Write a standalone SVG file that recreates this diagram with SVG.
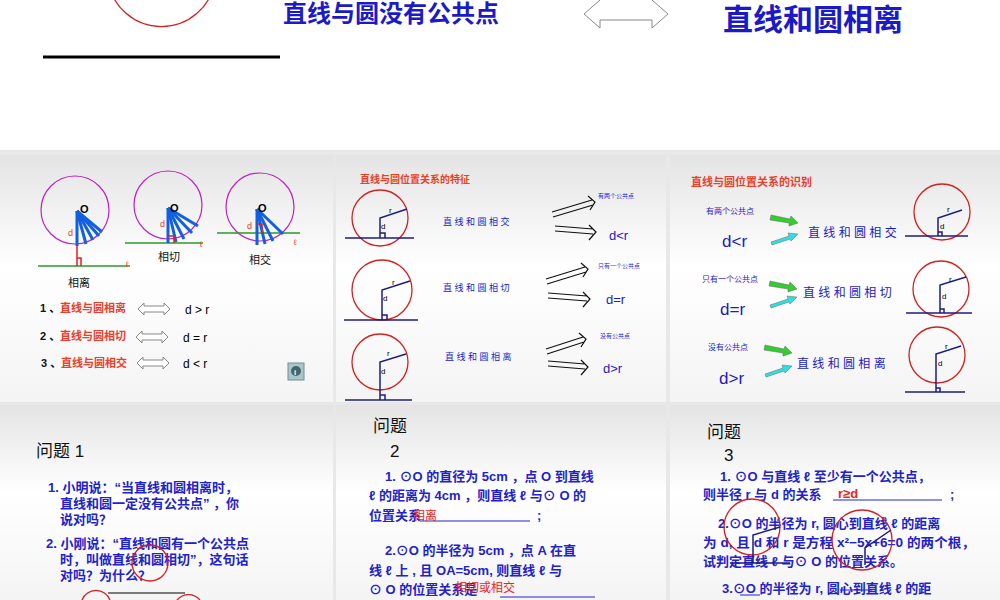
<svg xmlns="http://www.w3.org/2000/svg" width="1000" height="600" viewBox="0 0 1000 600">
<defs>
<linearGradient id="pg" x1="0" y1="0" x2="0" y2="1"><stop offset="0" stop-color="#e4e4e4"/><stop offset="0.45" stop-color="#ffffff"/><stop offset="1" stop-color="#f4f4f4"/></linearGradient>
<marker id="ah" viewBox="0 0 10 10" refX="9" refY="5" markerWidth="5" markerHeight="5" orient="auto"><path d="M0,0L10,5L0,10z" fill="#222"/></marker>
</defs>
<style>
text{font-family:"Liberation Sans","Noto Sans CJK SC",sans-serif}
.b{fill:#1a1ac8}.rd{fill:#e8402a}.k{fill:#111}
.cir{fill:none;stroke:#d42020;stroke-width:1.3}
.mc{fill:none;stroke:#c020c0;stroke-width:1.2}
.gl{stroke:#2a9a2a;stroke-width:1.5}
.nl{stroke:#1c1c80;stroke-width:1.5;fill:none}
.fan{stroke:#1060e0;stroke-width:3}
.ha{fill:#fff;stroke:#888;stroke-width:1}
.q{font-size:13px;fill:#2222cc;font-weight:bold}
</style>
<rect width="1000" height="600" fill="#ffffff"/>
<rect y="150" width="1000" height="450" fill="#e8e8e8"/>
<g id="top">
<path d="M108,-20 A54,54 0 0 0 215,-20" class="cir" stroke-width="2"/>
<line x1="43" y1="57" x2="280" y2="57" stroke="#000" stroke-width="3"/>
<text x="283" y="22" font-size="24" class="b" font-weight="bold">直线与圆没有公共点</text>
<path d="M600,0 L584,14 L600,28 L600,20 L652,20 L652,28 L668,14 L652,0" class="ha" stroke="#444"/>
<text x="723" y="30" font-size="30" class="b" font-weight="bold">直线和圆相离</text>
</g>
<g id="panel1">
<rect x="0" y="155" width="333" height="247" fill="url(#pg)"/>
<circle cx="75" cy="210" r="34" class="mc"/><line x1="38" y1="266" x2="130" y2="266" class="gl"/>
<g class="fan"><line x1="77" y1="211" x2="77" y2="246"/><line x1="77" y1="211" x2="86" y2="244"/><line x1="77" y1="211" x2="93" y2="240"/><line x1="77" y1="211" x2="99" y2="236"/><line x1="77" y1="211" x2="102" y2="232"/></g>
<path d="M77,246 V266 M77,258 H81 V266" stroke="#e02020" stroke-width="1.5" fill="none"/>
<text x="80" y="213" font-size="11" font-weight="bold" font-family="Liberation Serif">O</text><text x="68" y="236" font-size="9" class="rd">d</text><text x="126" y="267" font-size="8" class="rd">ℓ</text>
<circle cx="168" cy="205" r="34" class="mc"/><line x1="125" y1="243" x2="203" y2="243" class="gl"/>
<g class="fan"><line x1="168" y1="208" x2="168" y2="243"/><line x1="168" y1="208" x2="176" y2="242"/><line x1="168" y1="208" x2="184" y2="239"/><line x1="168" y1="208" x2="192" y2="233"/><line x1="168" y1="208" x2="198" y2="226"/></g>
<path d="M168,236 H174 V243" stroke="#e02020" stroke-width="1.5" fill="none"/>
<text x="170" y="212" font-size="11" font-weight="bold" font-family="Liberation Serif">O</text><text x="160" y="227" font-size="9" class="rd">d</text><text x="200" y="247" font-size="8" class="rd">ℓ</text>
<circle cx="260" cy="207" r="34" class="mc"/><line x1="217" y1="233" x2="300" y2="233" class="gl"/>
<g class="fan"><line x1="257" y1="209" x2="257" y2="245"/><line x1="257" y1="209" x2="265" y2="244"/><line x1="257" y1="209" x2="273" y2="241"/><line x1="257" y1="209" x2="283" y2="234"/></g>
<path d="M257,224 H262 V233" stroke="#e02020" stroke-width="1.5" fill="none"/>
<text x="258" y="212" font-size="11" font-weight="bold" font-family="Liberation Serif">O</text><text x="247" y="229" font-size="9" class="rd">d</text><text x="294" y="245" font-size="8" class="rd">ℓ</text>
<text x="68" y="287" font-size="11" class="k">相离</text><text x="158" y="261" font-size="11" class="k">相切</text><text x="249" y="264" font-size="11" class="k">相交</text>
<g font-size="11"><text x="40" y="312" class="k" font-weight="bold">1 、</text><text x="60" y="312" class="rd" font-weight="bold">直线与圆相离</text>
<text x="40" y="340" class="k" font-weight="bold">2 、</text><text x="60" y="340" class="rd" font-weight="bold">直线与圆相切</text>
<text x="41" y="367" class="k" font-weight="bold">3 、</text><text x="61" y="367" class="rd" font-weight="bold">直线与圆相交</text>
<text x="185" y="314" font-size="12">d &gt; r</text><text x="183" y="342" font-size="12">d = r</text><text x="183" y="368" font-size="12">d &lt; r</text></g>
<path d="M144,303 L138,309 L144,315 V312 H164 V315 L170,309 L164,303 V306 H144Z" class="ha"/>
<path d="M142,331 L136,337 L142,343 V340 H162 V343 L168,337 L162,331 V334 H142Z" class="ha"/>
<path d="M143,357 L137,363 L143,369 V366 H163 V369 L169,363 L163,357 V360 H143Z" class="ha"/>
<rect x="288" y="363" width="16" height="17" fill="#a8c8c8" stroke="#789"/><circle cx="296" cy="371" r="5" fill="#466"/><text x="294" y="375" font-size="8" fill="#fff" font-weight="bold">i</text>
</g>
<g id="panel2">
<rect x="336" y="155" width="330" height="247" fill="url(#pg)"/>
<text x="360" y="183" font-size="10" class="rd" font-weight="bold">直线与圆位置关系的特征</text>
<circle cx="380" cy="218" r="28" class="cir"/><path d="M345,238 H414 M380,238 V218 L407,209 M380,233 H385 V238" class="nl"/><text x="381" y="229" font-size="8">d</text><text x="389" y="213" font-size="8">r</text>
<circle cx="382" cy="290" r="30" class="cir"/><path d="M344,320 H418 M382,320 V290 L410,281 M382,315 H387 V320" class="nl"/><text x="383" y="301" font-size="8">d</text><text x="392" y="285" font-size="8">r</text>
<circle cx="380" cy="362" r="28" class="cir"/><path d="M345,400 H412 M380,400 V362 L406,354 M380,395 H385 V400" class="nl"/><text x="381" y="374" font-size="8">d</text><text x="387" y="356" font-size="8">r</text>
<g font-size="9" class="b" font-family="Liberation Serif"><text x="443" y="225">直 线 和 圆 相 交</text><text x="443" y="291">直 线 和 圆 相 切</text><text x="445" y="360">直 线 和 圆 相 离</text></g>
<g stroke="#111" stroke-width="1.2" fill="none">
<path d="M552,212 L592,200 M553,217 L593,205 M588,196 L595,202 L590,210"/><path d="M555,226 L593,229 M555,231 L593,234 M589,225 L596,232 L589,240"/>
<path d="M546,279 L585,267 M547,284 L586,272 M581,263 L588,269 L583,277"/><path d="M548,293 L587,296 M548,298 L587,301 M583,292 L590,299 L583,307"/>
<path d="M546,349 L583,337 M547,354 L584,342 M579,333 L586,339 L581,347"/><path d="M548,361 L585,364 M548,366 L585,369 M581,360 L588,367 L581,375"/>
</g>
<g class="b"><text x="598" y="198" font-size="6">有两个公共点</text><text x="609" y="240" font-size="13">d&lt;r</text>
<text x="598" y="268" font-size="6">只有一个公共点</text><text x="606" y="304" font-size="13">d=r</text>
<text x="600" y="338" font-size="6">没有公共点</text><text x="603" y="373" font-size="13">d&gt;r</text></g>
</g>
<g id="panel3">
<rect x="670" y="155" width="330" height="247" fill="url(#pg)"/>
<text x="691" y="186" font-size="11" class="rd" font-weight="bold">直线与圆位置关系的识别</text>
<g class="b"><text x="706" y="214" font-size="8">有两个公共点</text><text x="722" y="247" font-size="17">d&lt;r</text>
<text x="702" y="282" font-size="8">只有一个公共点</text><text x="720" y="315" font-size="17">d=r</text>
<text x="708" y="350" font-size="8">没有公共点</text><text x="719" y="384" font-size="17">d&gt;r</text>
<g font-size="12" font-family="Liberation Serif"><text x="808" y="237">直 线 和 圆 相 交</text><text x="803" y="297">直 线 和 圆 相 切</text><text x="797" y="368">直 线 和 圆 相 离</text></g></g>
<g stroke="#666" stroke-width="0.5">
<path d="M771,215 L790,219 L791,216 L798,223 L789,226 L789,223 L770,220Z" fill="#33cc33"/><path d="M771,242 L789,236 L788,233 L798,234 L791,241 L790,239 L772,245Z" fill="#33dddd"/>
<path d="M770,281 L789,285 L790,282 L797,289 L788,292 L788,289 L769,286Z" fill="#33cc33"/><path d="M770,305 L788,299 L787,296 L797,297 L790,304 L789,302 L771,308Z" fill="#33dddd"/>
<path d="M765,345 L784,349 L785,346 L792,353 L783,356 L783,353 L764,350Z" fill="#33cc33"/><path d="M765,374 L783,368 L782,365 L792,366 L785,373 L784,371 L766,377Z" fill="#33dddd"/>
</g>
<circle cx="942" cy="212" r="28" class="cir"/><path d="M905,236 H968 M938,236 V218 L962,210 M938,232 H942 V236" class="nl"/><text x="940" y="229" font-size="8">d</text><text x="947" y="212" font-size="8">r</text>
<circle cx="941" cy="289" r="28" class="cir"/><path d="M906,313 H972 M940,313 V285 L966,277 M940,309 H944 V313" class="nl"/><text x="942" y="299" font-size="8">d</text><text x="949" y="282" font-size="8">r</text>
<circle cx="937" cy="355" r="28" class="cir"/><path d="M905,392 H965 M936,392 V354 L961,346 M936,388 H940 V392" class="nl"/><text x="938" y="366" font-size="8">d</text><text x="945" y="349" font-size="8">r</text>
</g>
<g id="panel4">
<rect x="0" y="405" width="333" height="195" fill="url(#pg)"/>
<text x="36" y="457" font-size="17" class="k">问题 1</text>
<g class="q"><text x="48" y="492">1. 小明说：“当直线和圆相离时，</text><text x="60" y="508">直线和圆一定没有公共点” ，你</text><text x="60" y="524">说对吗？</text>
<text x="46" y="548">2. 小刚说：“直线和圆有一个公共点</text><text x="60" y="564">时，叫做直线和圆相切”，这句话</text><text x="60" y="580">对吗？为什么？</text></g>
<circle cx="150" cy="563" r="18" class="cir"/>
<line x1="108" y1="593" x2="185" y2="593" stroke="#000" stroke-width="1.2"/>
<path d="M82,600 A15,15 0 0 1 110,600 M177,600 A15,15 0 0 1 200,600" class="cir"/>
</g>
<g id="panel5">
<rect x="336" y="405" width="330" height="195" fill="url(#pg)"/>
<text x="373" y="432" font-size="17" class="k">问题</text><text x="390" y="457" font-size="17" class="k">2</text>
<g class="q"><text x="385" y="481">1. ⊙O 的直径为 5cm ，点 O 到直线</text><text x="369" y="500">ℓ 的距离为 4cm ，则直线  ℓ 与⊙ O 的</text><text x="369" y="520">位置关系</text><text x="537" y="520">;</text>
<text x="385" y="555">2.⊙O 的半径为 5cm ，点 A 在直</text><text x="369" y="575">线 ℓ 上 , 且 OA=5cm, 则直线  ℓ 与</text><text x="369" y="594">⊙ O 的位置关系是</text></g>
<line x1="420" y1="521" x2="530" y2="521" stroke="#2222cc"/><line x1="500" y1="597" x2="595" y2="597" stroke="#2222cc"/>
<text x="413" y="520" font-size="12" fill="#ee2222">相离</text><text x="455" y="592" font-size="12" fill="#ee2222">相切或相交</text>
</g>
<g id="panel6">
<rect x="670" y="405" width="330" height="195" fill="url(#pg)"/>
<text x="707" y="438" font-size="17" class="k">问题</text><text x="724" y="461" font-size="17" class="k">3</text>
<g class="q"><text x="720" y="481">1. ⊙O 与直线  ℓ  至少有一个公共点，</text><text x="703" y="499">则半径 r 与 d 的关系</text><text x="950" y="499">;</text>
<text x="718" y="528">2.⊙O 的半径为 r, 圆心到直线  ℓ  的距离</text><text x="703" y="547" textLength="272" lengthAdjust="spacingAndGlyphs">为 d, 且 d 和 r 是方程 x²−5x+6=0 的两个根，</text><text x="703" y="566">试判定直线  ℓ  与⊙ O 的位置关系。</text>
<text x="722" y="593">3.⊙O 的半径为 r, 圆心到直线  ℓ  的距</text></g>
<line x1="833" y1="500" x2="942" y2="500" stroke="#2222cc"/>
<text x="838" y="498" font-size="13" fill="#ee2222" font-weight="bold">r≥d</text>
<circle cx="752" cy="527" r="28" class="cir"/><path d="M730,563 H790 M753,563 V535 L780,527" class="nl" stroke-width="1"/>
<circle cx="862" cy="540" r="30" class="cir"/><path d="M865,565 V548 L891,530" class="nl" stroke-width="1"/>
<line x1="740" y1="595" x2="760" y2="595" stroke="#2222cc"/><line x1="840" y1="590" x2="872" y2="590" stroke="#2222cc"/>
</g>
</svg>
